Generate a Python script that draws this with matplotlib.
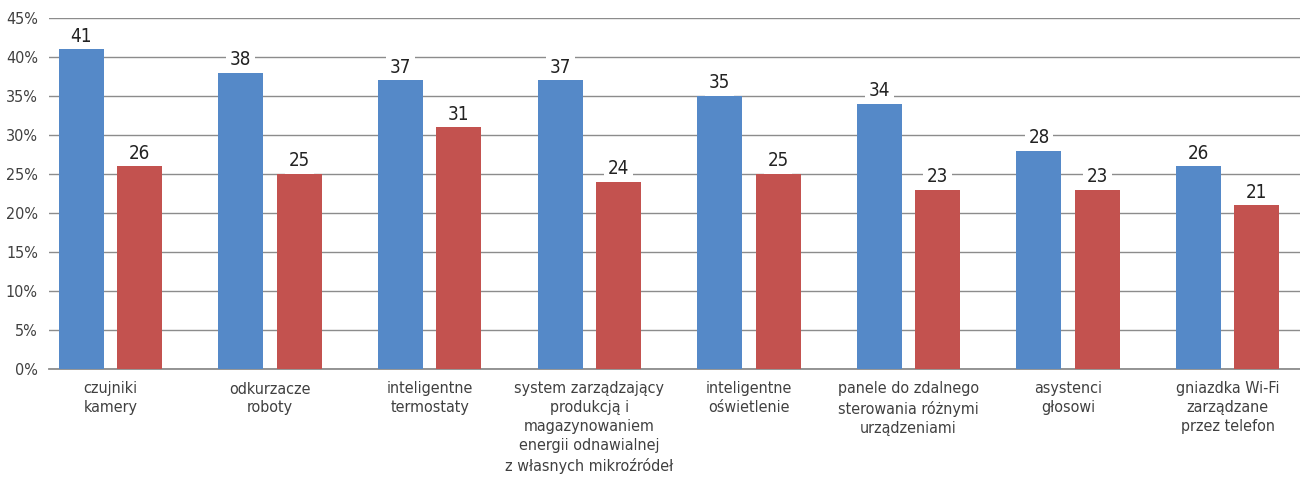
import numpy as np
import matplotlib.pyplot as plt
from matplotlib import font_manager
from matplotlib.ticker import PercentFormatter

# Dane do wykresu
kategorie = [
    "czujniki\nkamery",
    "odkurzacze\nroboty",
    "inteligentne\ntermostaty",
    "system zarządzający\nprodukcją i\nmagazynowaniem\nenergii odnawialnej\nz własnych mikroźródeł",
    "inteligentne\noświetlenie",
    "panele do zdalnego\nsterowania różnymi\nurządzeniami",
    "asystenci\ngłosowi",
    "gniazdka Wi-Fi\nzarządzane\nprzez telefon",
]
seria_1 = [41, 38, 37, 37, 35, 34, 28, 26]
seria_2 = [26, 25, 31, 24, 25, 23, 23, 21]

niebieski = '#5589C8'
czerwony = '#C3524F'
szary = '#8C8C8C'

# wąska czcionka, jeśli jest dostępna
nazwy = {f.name for f in font_manager.fontManager.ttflist}
if 'Liberation Sans Narrow' in nazwy:
    plt.rcParams['font.family'] = ['Liberation Sans Narrow', 'DejaVu Sans']
else:
    plt.rcParams['font.family'] = ['DejaVu Sans']
    plt.rcParams['font.stretch'] = 'condensed'

fig = plt.figure(figsize=(13, 4.84), dpi=100)
ax = fig.add_axes([49 / 1300, 115 / 484, 1 - 49 / 1300, 351 / 484])

x = np.arange(len(kategorie))
szer = 0.282
off = 0.183
s1 = ax.bar(x - off, seria_1, width=szer, color=niebieski, zorder=3)
s2 = ax.bar(x + off, seria_2, width=szer, color=czerwony, zorder=3)

# Etykiety wartości z białym tłem
for bars, vals in ((s1, seria_1), (s2, seria_2)):
    for b, v in zip(bars, vals):
        ax.annotate(str(v), (b.get_x() + b.get_width() / 2, v),
                    xytext=(0, 13), textcoords='offset pixels',
                    ha='center', va='center', fontsize=13.5, color='#222222',
                    bbox=dict(boxstyle='square,pad=0.2', fc='white', ec='none'),
                    zorder=2)

ax.set_xlim(-0.385, 7.453)
ax.set_ylim(0, 45)
ax.set_yticks(np.arange(0, 46, 5))
ax.yaxis.set_major_formatter(PercentFormatter(decimals=0))
ax.yaxis.grid(True, color=szary, linewidth=1.0, zorder=0)
ax.set_axisbelow(True)

for s in ('left', 'right', 'top'):
    ax.spines[s].set_visible(False)
ax.spines['bottom'].set_color(szary)
ax.spines['bottom'].set_linewidth(1.3)

ax.tick_params(axis='y', length=0, pad=8, labelsize=11.5, labelcolor='#404040')
ax.tick_params(axis='x', length=0, pad=9, labelsize=11.5, labelcolor='#404040')
ax.set_xticks(x)
ax.set_xticklabels(kategorie, linespacing=1.33, va='top')

fig.savefig('out.png', dpi=100)
